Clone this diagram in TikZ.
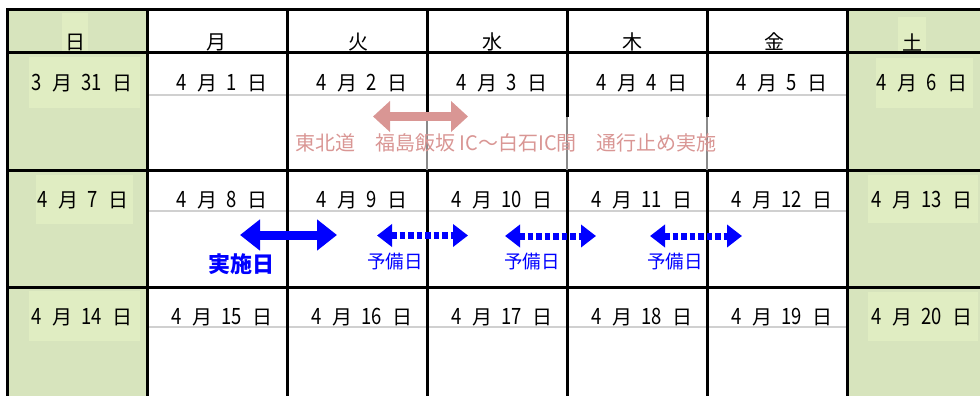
\documentclass[tikz,border=0pt]{standalone}
\usepackage{fontspec}
\setmainfont{Noto Sans CJK JP}
\usetikzlibrary{arrows.meta}
\definecolor{wkend}{HTML}{D7E4BD}
\definecolor{wkbox}{HTML}{E0EDC2}
\definecolor{pinkc}{HTML}{D99694}
\definecolor{grayl}{HTML}{D0D0D0}
\definecolor{graym}{HTML}{8A8A8A}
\definecolor{bluec}{HTML}{0000FF}
\newcommand\dg[1]{\makebox[10pt]{\scalebox{0.82}[1]{\fontsize{22.5}{24}\selectfont #1}}}
\newcommand\mydt[2]{\dg{#1}\hspace{10pt}月\hspace{10pt}#2\hspace{10pt}日}
\begin{document}
\begin{tikzpicture}[x=1pt,y=-1pt,
  gridl/.style={line width=3pt,black},
  gridg/.style={line width=1.8pt,graym},
  datel/.style={line width=2.6pt,grayl},
  txt/.style={font=\fontsize{20}{24}\selectfont, inner sep=0pt, text=black},
  pinktxt/.style={font=\fontsize{20}{24}\selectfont, inner sep=0pt, text=pinkc},
  yobitxt/.style={font=\fontsize{18.5}{22}\selectfont, inner sep=0pt, text=bluec},
  jisshitxt/.style={font=\fontsize{22}{26}\selectfont\bfseries, inner sep=0pt, text=bluec},
  blockarr/.style={line width=9pt, {Triangle[length=20pt,width=30pt]}-{Triangle[length=20pt,width=30pt]}},
  dotarr/.style={bluec, line width=7pt, dash pattern=on 5.5pt off 3pt, {Triangle[length=15pt,width=22pt]}-{Triangle[length=15pt,width=22pt]}}
]
\useasboundingbox (0,0) rectangle (980,396);
% weekend fills
\fill[wkend] (7,10) rectangle (147,396);
\fill[wkend] (847,10) rectangle (980,396);
% lighter boxes
\fill[wkbox] (62,13) rectangle (88,52);
\fill[wkbox] (898,17) rectangle (926,52);
\fill[wkbox] (29,57) rectangle (140,108);
\fill[wkbox] (876,58) rectangle (973,108);
\fill[wkbox] (36,175) rectangle (133,224);
\fill[wkbox] (868,175) rectangle (978,223);
\fill[wkbox] (29,291) rectangle (140,341);
\fill[wkbox] (868,292) rectangle (978,341);
% gray lines under dates
\draw[datel] (147,95) -- (847,95);
\draw[datel] (147,211) -- (847,211);
\draw[datel] (147,327) -- (847,327);
% grid
\draw[gridl] (6,10) -- (980,10);
\draw[gridl] (6,53) -- (980,53);
\draw[gridl] (6,170) -- (980,170);
\draw[gridl] (6,287) -- (980,287);
\draw[gridl] (7,9) -- (7,396);
\draw[gridl] (147,10) -- (147,396);
\draw[gridl] (287,10) -- (287,396);
\draw[gridl] (847,10) -- (847,396);
\draw[gridl] (427,10) -- (427,112);
\draw[gridl] (427,170) -- (427,396);
\draw[gridg] (427,112) -- (427,170);
\draw[gridl] (567,10) -- (567,117);
\draw[gridl] (567,170) -- (567,396);
\draw[gridg] (567,117) -- (567,170);
\draw[gridl] (707,10) -- (707,117);
\draw[gridl] (707,170) -- (707,396);
\draw[gridg] (707,117) -- (707,170);
% header
\node[txt] (hsun) at (75,42) {日};
\node[txt] (hmon) at (216,42) {月};
\node[txt] (htue) at (358,42) {火};
\node[txt] (hwed) at (492,42) {水};
\node[txt] (hthu) at (632,42) {木};
\node[txt] (hfri) at (774,42) {金};
\node[txt] (hsat) at (912,42) {土};
% row 1
\node[txt] (d0331) at (82,83) {\mydt{3}{\dg{3}\dg{1}}};
\node[txt] (d0401) at (222,83) {\mydt{4}{\dg{1}}};
\node[txt] (d0402) at (362,83) {\mydt{4}{\dg{2}}};
\node[txt] (d0403) at (502,83) {\mydt{4}{\dg{3}}};
\node[txt] (d0404) at (642,83) {\mydt{4}{\dg{4}}};
\node[txt] (d0405) at (782,83) {\mydt{4}{\dg{5}}};
\node[txt] (d0406) at (922,83) {\mydt{4}{\dg{6}}};
% row 2
\node[txt] (d0407) at (83,200) {\mydt{4}{\dg{7}}};
\node[txt] (d0408) at (222,200) {\mydt{4}{\dg{8}}};
\node[txt] (d0409) at (362,200) {\mydt{4}{\dg{9}}};
\node[txt] (d0410) at (502,200) {\mydt{4}{\dg{1}\dg{0}}};
\node[txt] (d0411) at (642,200) {\mydt{4}{\dg{1}\dg{1}}};
\node[txt] (d0412) at (782,200) {\mydt{4}{\dg{1}\dg{2}}};
\node[txt] (d0413) at (922,200) {\mydt{4}{\dg{1}\dg{3}}};
% row 3
\node[txt] (d0414) at (82,317) {\mydt{4}{\dg{1}\dg{4}}};
\node[txt] (d0415) at (222,317) {\mydt{4}{\dg{1}\dg{5}}};
\node[txt] (d0416) at (362,317) {\mydt{4}{\dg{1}\dg{6}}};
\node[txt] (d0417) at (502,317) {\mydt{4}{\dg{1}\dg{7}}};
\node[txt] (d0418) at (642,317) {\mydt{4}{\dg{1}\dg{8}}};
\node[txt] (d0419) at (782,317) {\mydt{4}{\dg{1}\dg{9}}};
\node[txt] (d0420) at (922,317) {\mydt{4}{\dg{2}\dg{0}}};
% closure arrow and text
\coordinate (pa1) at (373,116.5);
\coordinate (pa2) at (468,116.5);
\draw[pinkc, line width=9pt, {Triangle[length=17pt,width=30pt]}-{Triangle[length=17pt,width=30pt]}] (pa1) -- (pa2);
\node[pinktxt] (closure) at (506,143) {東北道　福島飯坂 IC～白石IC間　通行止め実施};
% execution day
\coordinate (ba1) at (240,235);
\coordinate (ba2) at (337,235);
\draw[bluec, blockarr] (ba1) -- (ba2);
\node[jisshitxt] (jisshi) at (241,264) {実施日};
% reserve days
\coordinate (ra1) at (377,235.5);
\coordinate (ra2) at (468,235.5);
\coordinate (rb1) at (505,236);
\coordinate (rb2) at (596,236);
\coordinate (rc1) at (650,236);
\coordinate (rc2) at (742,236);
\draw[dotarr] (ra1) -- (ra2);
\draw[dotarr] (rb1) -- (rb2);
\draw[dotarr] (rc1) -- (rc2);
\node[yobitxt] (yobi1) at (395,262) {予備日};
\node[yobitxt] (yobi2) at (532,262) {予備日};
\node[yobitxt] (yobi3) at (675,262) {予備日};
\end{tikzpicture}
\end{document}
